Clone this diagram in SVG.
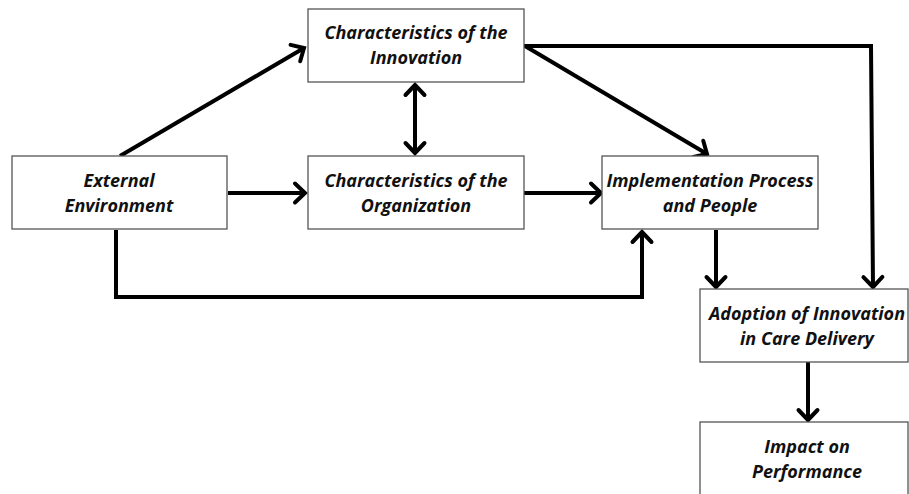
<svg xmlns="http://www.w3.org/2000/svg" width="909" height="494" viewBox="0 0 909 494">
<style>
.box{fill:#fff;stroke:#555;stroke-width:1.3}
.t{font-family:"Open Sans","Liberation Sans",sans-serif;font-weight:bold;font-style:italic;font-size:18px;fill:#111;text-anchor:middle}
.c{fill:none;stroke:#000;stroke-width:4;stroke-linejoin:miter}
</style>
<defs>
<marker id="a" markerUnits="userSpaceOnUse" markerWidth="26" markerHeight="26" viewBox="-13 -13 26 26" refX="0" refY="0" orient="auto-start-reverse">
<path d="M-10,-9.5 L0,0 L-10,9.5" fill="none" stroke="#000" stroke-width="4" stroke-linecap="round"/>
</marker>
</defs>
<rect width="909" height="494" fill="#fff"/>
<g id="connectors">
<line class="c" x1="120" y1="156" x2="304" y2="48" marker-end="url(#a)"/>
<line class="c" x1="415" y1="85" x2="415" y2="153" marker-start="url(#a)" marker-end="url(#a)"/>
<line class="c" x1="228" y1="193" x2="305" y2="193" marker-end="url(#a)"/>
<line class="c" x1="524" y1="193" x2="601" y2="193" marker-end="url(#a)"/>
<line class="c" x1="525" y1="46" x2="707" y2="154" marker-end="url(#a)"/>
<polyline class="c" points="524,46 871,46 873,287" marker-end="url(#a)"/>
<polyline class="c" points="116,230 116,297 642,297 642,232" marker-end="url(#a)"/>
<line class="c" x1="716" y1="230" x2="716" y2="287" marker-end="url(#a)"/>
<line class="c" x1="808" y1="362" x2="808" y2="420" marker-end="url(#a)"/>
</g>
<g id="innovation">
<rect class="box" x="308" y="9" width="216" height="73"/>
<text class="t" x="416" y="39">Characteristics of the</text>
<text class="t" x="416" y="64">Innovation</text>
</g>
<g id="external">
<rect class="box" x="12" y="156" width="215" height="73"/>
<text class="t" x="119" y="187">External</text>
<text class="t" x="119" y="212">Environment</text>
</g>
<g id="organization">
<rect class="box" x="308" y="156" width="216" height="73"/>
<text class="t" x="416" y="187">Characteristics of the</text>
<text class="t" x="416" y="212">Organization</text>
</g>
<g id="implementation">
<rect class="box" x="602" y="156" width="216" height="73"/>
<text class="t" x="710" y="187">Implementation Process</text>
<text class="t" x="710" y="212">and People</text>
</g>
<g id="adoption">
<rect class="box" x="700" y="289" width="208" height="73"/>
<text class="t" x="807" y="320">Adoption of Innovation</text>
<text class="t" x="807" y="345">in Care Delivery</text>
</g>
<g id="impact">
<rect class="box" x="700" y="422" width="208" height="80"/>
<text class="t" x="807" y="453">Impact on</text>
<text class="t" x="807" y="478">Performance</text>
</g>
</svg>
